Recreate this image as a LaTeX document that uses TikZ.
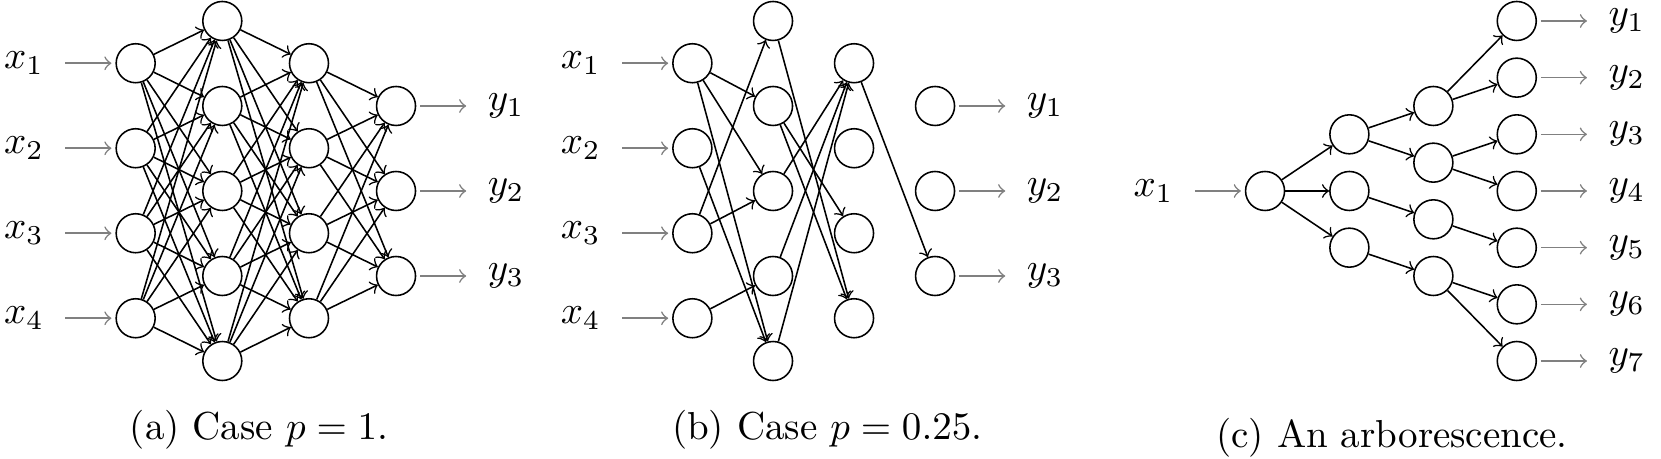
\documentclass[tikz,border=0pt]{standalone}
\usetikzlibrary{positioning}

\begin{document}
\begin{tikzpicture}[x=0.766cm, y=0.766cm, node distance=0.52cm,
        neuron/.style={circle, draw, minimum size=10pt, inner sep=0pt},
        inarrow/.style={->, gray, shorten <=2pt, shorten >=1pt},
        outarrow/.style={->, gray, shorten <=1pt, shorten >=2pt}]
        \useasboundingbox (0,0) rectangle (19.54,5.388);

        % (a) Case p = 1
        % Define nodes
        \foreach \i in {1,...,4} \node[neuron] (a1\i) at (1.596, {5.644-\i}) {};
        \foreach \i in {1,...,5} \node[neuron] (a2\i) at (2.615, {6.141-\i}) {};
        \foreach \i in {1,...,4} \node[neuron] (a3\i) at (3.635, {5.644-\i}) {};
        \foreach \i in {1,...,3} \node[neuron] (a4\i) at (4.659, {5.141-\i}) {};
        \foreach \i in {1,...,4} {
            \node[left=of a1\i] (ax\i) {$x_\i$};
            \draw[inarrow] (ax\i) -- (a1\i);
        }
        \foreach \i in {1,...,3} {
            \node[right=of a4\i] (ay\i) {$y_\i$};
            \draw[outarrow] (a4\i) -- (ay\i);
        }

        % Draw edges
        \foreach \i in {1,...,4} \foreach \j in {1,...,5} \draw[->] (a1\i) -- (a2\j);
        \foreach \i in {1,...,5} \foreach \j in {1,...,4} \draw[->] (a2\i) -- (a3\j);
        \foreach \i in {1,...,4} \foreach \j in {1,...,3} \draw[->] (a3\i) -- (a4\j);

        \node[anchor=base] (capa) at (3.047, 0.212) {(a) Case $p=1$.};

        % (b) Case p = 0.25
        % Define nodes
        \foreach \i in {1,...,4} \node[neuron] (b1\i) at (8.145, {5.644-\i}) {};
        \foreach \i in {1,...,5} \node[neuron] (b2\i) at (9.094, {6.141-\i}) {};
        \foreach \i in {1,...,4} \node[neuron] (b3\i) at (10.047, {5.644-\i}) {};
        \foreach \i in {1,...,3} \node[neuron] (b4\i) at (11.0, {5.141-\i}) {};
        \foreach \i in {1,...,4} {
            \node[left=of b1\i] (bx\i) {$x_\i$};
            \draw[inarrow] (bx\i) -- (b1\i);
        }
        \foreach \i in {1,...,3} {
            \node[right=of b4\i] (by\i) {$y_\i$};
            \draw[outarrow] (b4\i) -- (by\i);
        }

        % Draw edges
        \draw[->] (b11) -- (b22);
        \draw[->] (b11) -- (b23);
        \draw[->] (b11) -- (b25);
        \draw[->] (b12) -- (b25);
        \draw[->] (b13) -- (b21);
        \draw[->] (b13) -- (b23);
        \draw[->] (b14) -- (b24);
        \draw[->] (b21) -- (b34);
        \draw[->] (b22) -- (b33);
        \draw[->] (b22) -- (b34);
        \draw[->] (b23) -- (b31);
        \draw[->] (b24) -- (b31);
        \draw[->] (b25) -- (b31);
        \draw[->] (b31) -- (b43);

        \node[anchor=base] (capb) at (9.73, 0.212) {(b) Case $p=0.25$.};

        % (c) An arborescence
        % Define nodes
        \node[neuron] (r) at (14.882, 3.141) {};
        \foreach \i in {1,...,3} \node[neuron] (c2\i) at (15.874, {3.141+2*(2-\i)/3}) {};
        \foreach \i in {1,...,4} \node[neuron] (c3\i) at (16.862, {4.141-2*(\i-1)/3}) {};
        \foreach \i in {1,...,7} \node[neuron] (c4\i) at (17.843, {5.141-2*(\i-1)/3}) {};
        \node[left=of r] (cx1) {$x_1$};
        \draw[inarrow] (cx1) -- (r);
        \foreach \i in {1,...,7} {
            \node[right=of c4\i] (cy\i) {$y_\i$};
            \draw[outarrow] (c4\i) -- (cy\i);
        }

        % Draw edges
        \draw[->] (r) -- (c21);
        \draw[->] (r) -- (c22);
        \draw[->] (r) -- (c23);
        \draw[->] (c21) -- (c31);
        \draw[->] (c21) -- (c32);
        \draw[->] (c22) -- (c33);
        \draw[->] (c23) -- (c34);
        \draw[->] (c31) -- (c41);
        \draw[->] (c31) -- (c42);
        \draw[->] (c32) -- (c43);
        \draw[->] (c32) -- (c44);
        \draw[->] (c33) -- (c45);
        \draw[->] (c34) -- (c46);
        \draw[->] (c34) -- (c47);

        \node[anchor=base] (capc) at (16.376, 0.129) {(c) An arborescence.};
    \end{tikzpicture}
\end{document}
